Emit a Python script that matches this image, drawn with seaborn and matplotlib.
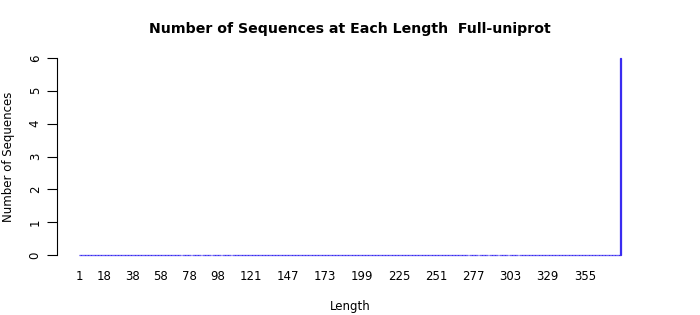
import numpy as np
import pandas as pd
import matplotlib
matplotlib.use("Agg")
import matplotlib.pyplot as plt
import seaborn as sns

# Data
lengths = list(range(1, 381))
counts = [0] * 379 + [6]
tick_labels = [1, 18, 38, 58, 78, 98, 121, 147, 173, 199, 225, 251, 277, 303, 329, 355]
yticks = [0, 1, 2, 3, 4, 5, 6]

df = pd.DataFrame({"Length": [str(l) for l in lengths], "Count": counts})

sns.set_style("white")
plt.rcParams["font.family"] = ["DejaVu Sans"]
plt.rcParams["text.color"] = "black"
plt.rcParams["axes.labelcolor"] = "black"
plt.rcParams["xtick.color"] = "black"
plt.rcParams["ytick.color"] = "black"

fig = plt.figure(figsize=(7, 3.15), dpi=100)
ax = fig.add_axes([57 / 700, 1 - 263 / 315, (643 - 57) / 700, (263 - 50) / 315])

sns.barplot(data=df, x="Length", y="Count", color="#8a10d8", edgecolor="#3a2cf0",
            linewidth=0.9, width=0.98, saturation=1, ax=ax)

n = len(lengths)
pad = n * 0.04
ax.set_xlim(-0.5 - pad, n - 0.5 + pad)
ax.set_ylim(-0.24, 6.24)

idx = [lengths.index(t) for t in tick_labels]
ax.set_xticks(idx)
ax.set_xticklabels([str(t) for t in tick_labels], fontsize=8.5)
ax.tick_params(axis="x", length=0, pad=5)

ax.set_yticks(yticks)
ax.set_yticklabels([str(t) for t in yticks], fontsize=8.5, rotation=90, va="center")
ax.tick_params(axis="y", length=7, width=0.8, direction="out", pad=4, left=True)

for s in ["top", "right", "bottom"]:
    ax.spines[s].set_visible(False)
ax.spines["left"].set_bounds(0, 6)
ax.spines["left"].set_linewidth(0.8)
ax.spines["left"].set_color("black")

ax.set_xlabel("Length", fontsize=8.5, labelpad=12)
ax.set_ylabel("Number of Sequences", fontsize=8.5, labelpad=10)
fig.suptitle("Number of Sequences at Each Length  Full-uniprot", fontsize=10.2,
             fontweight="bold", y=1 - 29 / 315, va="center")

fig.savefig("out.png", dpi=100)
